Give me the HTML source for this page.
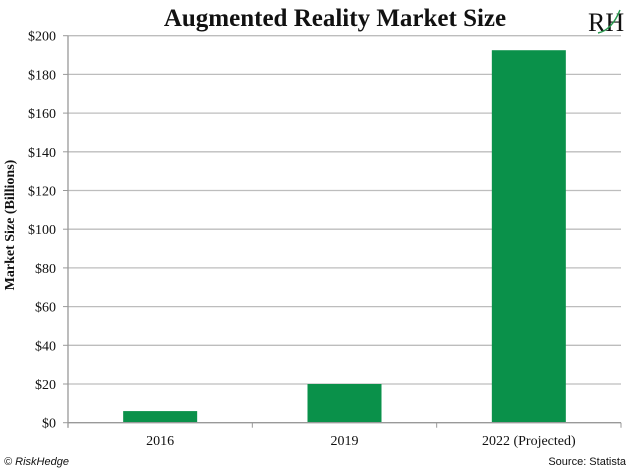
<!DOCTYPE html>
<html><head><meta charset="utf-8"><style>
body{margin:0;background:#fff}
svg text{font-family:"Liberation Serif",serif;fill:#111}
</style></head><body>
<svg width="630" height="470" viewBox="0 0 630 470">
<text x="335" y="26" text-anchor="middle" font-size="25" font-weight="bold">Augmented Reality Market Size</text>
<g>
<text x="588" y="31" font-size="26" style="font-family:'Liberation Serif',serif" fill="#222">RH</text>
<path d="M598 33 Q612 30 620 10" stroke="#2a9a50" fill="none" stroke-width="1.5"/>
</g>
<g id="grid"></g>
<g id="bars"></g>
<g id="axes"></g>
<text transform="translate(14,225) rotate(-90)" text-anchor="middle" font-size="14" font-weight="bold">Market Size (Billions)</text>
<text x="4" y="465" font-size="11" font-style="italic" style="font-family:'Liberation Sans',sans-serif">© RiskHedge</text>
<text x="626" y="465" font-size="11" text-anchor="end" style="font-family:'Liberation Sans',sans-serif">Source: Statista</text>
</svg>
<script>
const categories=["2016","2019","2022 (Projected)"];
const values=[6,20,192.5];
const yTicks=[0,20,40,60,80,100,120,140,160,180,200];
const ns="http://www.w3.org/2000/svg";
const x0=68,x1=621,y0=422.7,yTop=35.7,yMax=200;
const y=v=>y0-(v/yMax)*(y0-yTop);
const bw=(x1-x0)/categories.length;
const xc=i=>x0+bw*(i+0.5);
function mk(t,a,p){const e=document.createElementNS(ns,t);for(const k in a)e.setAttribute(k,a[k]);p.appendChild(e);return e;}
const grid=document.getElementById('grid'),bars=document.getElementById('bars'),axes=document.getElementById('axes');
yTicks.forEach(v=>{
 if(v>0){const l=mk('line',{x1:x0,x2:x1,y1:y(v),y2:y(v),stroke:'#bdbdbd','stroke-width':1.3},grid);
 
 }
 const t=mk('line',{x1:63,x2:x0,y1:y(v),y2:y(v),stroke:'#999'},axes);
 
 
 const tx=mk('text',{x:56,y:y(v)+5,'text-anchor':'end','font-size':14},axes);
 tx.textContent='$'+v;
 
 
});
values.forEach((v,i)=>{
 const r=mk('rect',{x:xc(i)-37,width:74,y:y(v),height:y0-y(v),fill:'#0a914a'},bars);
 
 
 const t=mk('text',{x:xc(i),y:445,'text-anchor':'middle','font-size':14},axes);
 t.textContent=categories[i];
 
 
});
for(let i=0;i<=categories.length;i++){
 const t=mk('line',{x1:x0+bw*i,x2:x0+bw*i,y1:y0,y2:y0+5,stroke:'#999'},axes);
 
 
}
const ax=mk('line',{x1:x0,x2:x0,y1:yTop,y2:y0+5,stroke:'#999','stroke-width':1.3},axes);


const bx=mk('line',{x1:x0,x2:x1,y1:y0,y2:y0,stroke:'#999','stroke-width':1.3},axes);


</script>
</body></html>
